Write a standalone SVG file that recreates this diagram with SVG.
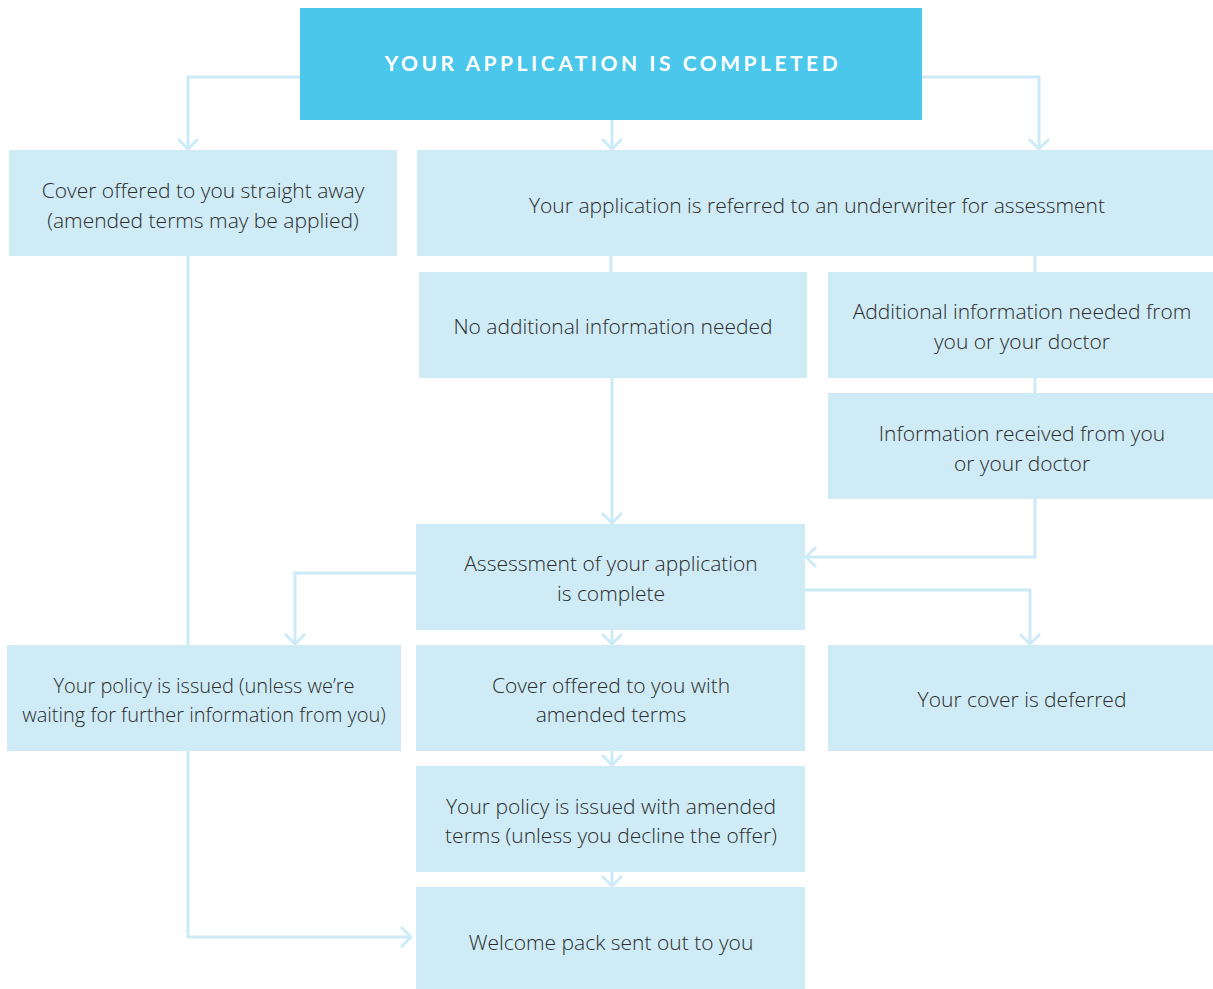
<svg xmlns="http://www.w3.org/2000/svg" width="1213" height="989" viewBox="0 0 1213 989">
<style>
.box{fill:#CEEBF6}
.t{font-family:"Open Sans","Liberation Sans",sans-serif;font-weight:300;font-size:21px;fill:#2b2b2b;text-anchor:middle}
.s{font-size:20px}
.title{font-family:"Lato","Liberation Sans",sans-serif;font-weight:700;font-size:21px;fill:#fff;text-anchor:middle;letter-spacing:3.5px}
.c{fill:none;stroke:#CDEBF7;stroke-width:3}
</style>
<defs>
<marker id="ah" viewBox="0 0 24 24" refX="22" refY="12" markerWidth="24" markerHeight="24" markerUnits="userSpaceOnUse" orient="auto">
<path d="M12,2 L22,12 L12,22" fill="none" stroke="#CDEBF7" stroke-width="3"/>
</marker>
</defs>
<g id="connectors">
<path class="c" d="M300,77 H188 V149" marker-end="url(#ah)"/>
<path class="c" d="M922,77 H1039 V149" marker-end="url(#ah)"/>
<path class="c" d="M612,120 V149" marker-end="url(#ah)"/>
<path class="c" d="M611,256 V272"/>
<path class="c" d="M1035,256 V272"/>
<path class="c" d="M612,378 V523" marker-end="url(#ah)"/>
<path class="c" d="M1035,378 V393"/>
<path class="c" d="M1035,499 V557 H806" marker-end="url(#ah)"/>
<path class="c" d="M416,573 H295 V644" marker-end="url(#ah)"/>
<path class="c" d="M805,590 H1030 V644" marker-end="url(#ah)"/>
<path class="c" d="M612,630 V644" marker-end="url(#ah)"/>
<path class="c" d="M612,751 V765" marker-end="url(#ah)"/>
<path class="c" d="M612,872 V886" marker-end="url(#ah)"/>
<path class="c" d="M188,256 V937 H411" marker-end="url(#ah)"/>
</g>
<g id="n0"><rect x="300" y="8" width="622" height="112" fill="#4AC7EA"/><text class="title" x="613" y="71">YOUR APPLICATION IS COMPLETED</text></g>
<g id="n1"><rect class="box" x="9" y="150" width="388" height="106"/><text class="t" x="203" y="198">Cover offered to you straight away</text><text class="t" x="203" y="228">(amended terms may be applied)</text></g>
<g id="n2"><rect class="box" x="417" y="150" width="796" height="106"/><text class="t" x="817" y="213">Your application is referred to an underwriter for assessment</text></g>
<g id="n3"><rect class="box" x="419" y="272" width="388" height="106"/><text class="t" x="613" y="334">No additional information needed</text></g>
<g id="n4"><rect class="box" x="828" y="272" width="385" height="106"/><text class="t" x="1022" y="319">Additional information needed from</text><text class="t" x="1022" y="349">you or your doctor</text></g>
<g id="n5"><rect class="box" x="828" y="393" width="385" height="106"/><text class="t" x="1022" y="441">Information received from you</text><text class="t" x="1022" y="471">or your doctor</text></g>
<g id="n6"><rect class="box" x="416" y="524" width="389" height="106"/><text class="t" x="611" y="571">Assessment of your application</text><text class="t" x="611" y="601">is complete</text></g>
<g id="n7"><rect class="box" x="7" y="645" width="394" height="106"/><text class="t s" x="204" y="693">Your policy is issued (unless we’re</text><text class="t s" x="204" y="722">waiting for further information from you)</text></g>
<g id="n8"><rect class="box" x="416" y="645" width="389" height="106"/><text class="t" x="611" y="693">Cover offered to you with</text><text class="t" x="611" y="722">amended terms</text></g>
<g id="n9"><rect class="box" x="828" y="645" width="385" height="106"/><text class="t" x="1022" y="707">Your cover is deferred</text></g>
<g id="n10"><rect class="box" x="416" y="766" width="389" height="106"/><text class="t" x="611" y="814">Your policy is issued with amended</text><text class="t" x="611" y="843">terms (unless you decline the offer)</text></g>
<g id="n11"><rect class="box" x="416" y="887" width="389" height="102"/><text class="t" x="611" y="950">Welcome pack sent out to you</text></g>
</svg>
